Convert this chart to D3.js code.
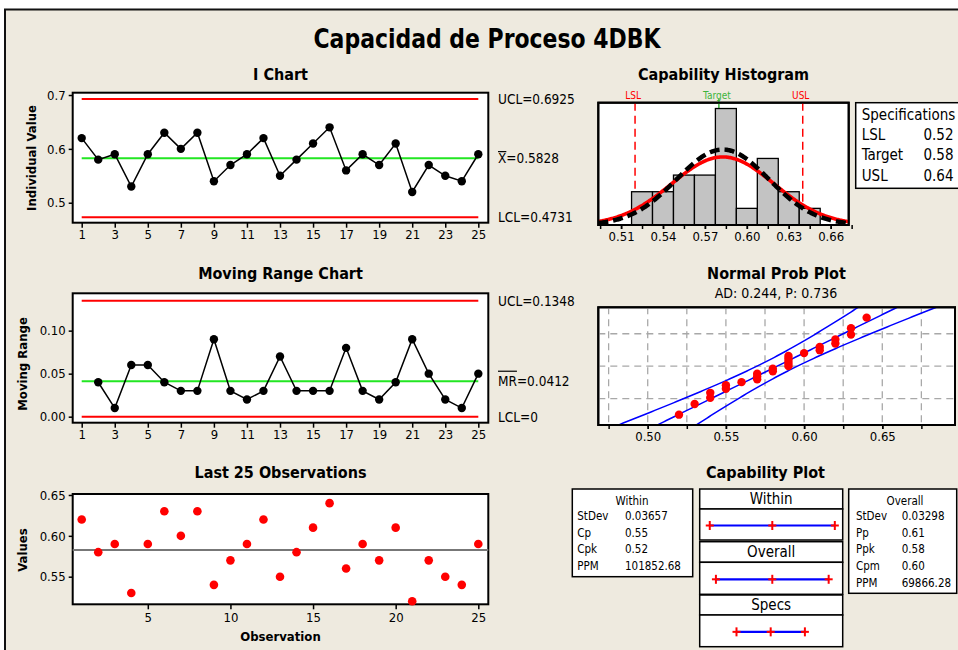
<!DOCTYPE html>
<html>
<head>
<meta charset="utf-8">
<script src="https://cdn.jsdelivr.net/npm/d3@7"></script>
<style>
  html, body { margin: 0; padding: 0; background: #fff; }
  svg { display: block; }
</style>
</head>
<body>
<svg id="chart" width="958" height="650"></svg>
<script>
// ---------- data ----------
const observations = d3.range(1, 26);
const values = [0.62, 0.58, 0.59, 0.53, 0.59, 0.63, 0.60, 0.63, 0.54, 0.57, 0.59, 0.62, 0.55,
                0.58, 0.61, 0.64, 0.56, 0.59, 0.57, 0.61, 0.52, 0.57, 0.55, 0.54, 0.59];
const movingRanges = [null, 0.04, 0.01, 0.06, 0.06, 0.04, 0.03, 0.03, 0.09, 0.03, 0.02, 0.03, 0.07,
                      0.03, 0.03, 0.03, 0.08, 0.03, 0.02, 0.04, 0.09, 0.05, 0.02, 0.01, 0.05];
const iChartLimits = [0.6925, 0.5828, 0.4731];      // UCL, X-bar, LCL
const mrChartLimits = [0.1348, 0.0412, 0];          // UCL, MR-bar, LCL
const specNames = ["LSL", "Target", "USL"];
const specValues = [0.52, 0.58, 0.64];
const processMean = 0.5828;
const sigmaWithin = 0.03657;
const sigmaOverall = 0.03298;
const histBinWidth = 0.015;
const histBinStart = 0.5175;
const withinLabels = ["StDev", "Cp", "Cpk", "PPM"];
const withinStats = ["0.03657", "0.55", "0.52", "101852.68"];
const overallLabels = ["StDev", "Pp", "Ppk", "Cpm", "PPM"];
const overallStats = ["0.03298", "0.61", "0.58", "0.60", "69866.28"];
const withinSpan = [0.4731, 0.5828, 0.6925];
const overallSpan = [0.4839, 0.5828, 0.6817];
const normalityText = "AD: 0.244, P: 0.736";
const obsTicksOdd = [1, 3, 5, 7, 9, 11, 13, 15, 17, 19, 21, 23, 25];
const obsTicks5 = [5, 10, 15, 20, 25];
const iTicks = [0.5, 0.6, 0.7];
const mrTicks = [0.00, 0.05, 0.10];
const lastTicks = [0.55, 0.60, 0.65];
const histLabelTicks = [0.51, 0.54, 0.57, 0.60, 0.63, 0.66];
const probLabelTicks = [0.50, 0.55, 0.60, 0.65];
const probGridPercents = [0.10, 0.50, 0.90];

// ---------- style ----------
const BG = "#EEEADF";
const FONT = "'DejaVu Sans Condensed','DejaVu Sans',sans-serif";
const RED = "#FF0000", GREEN = "#22E622", BLUE = "#0000FF";

const svg = d3.select("#chart").attr("font-family", FONT);
svg.append("rect").attr("width", 958).attr("height", 650).attr("fill", "#fff");
svg.append("rect").attr("x", 5).attr("y", 9.5).attr("width", 1000).attr("height", 700)
  .attr("fill", BG).attr("stroke", "#111").attr("stroke-width", 2);

function plotBox(x0, y0, x1, y1, sw = 2) {
  return svg.append("rect").attr("x", x0).attr("y", y0)
    .attr("width", x1 - x0).attr("height", y1 - y0)
    .attr("fill", "#fff").attr("stroke", "#000").attr("stroke-width", sw);
}
function frameOnly(x0, y0, x1, y1, sw = 2) {
  return svg.append("rect").attr("x", x0).attr("y", y0)
    .attr("width", x1 - x0).attr("height", y1 - y0)
    .attr("fill", "none").attr("stroke", "#000").attr("stroke-width", sw);
}
function styleAxis(sel, size) {
  sel.select(".domain").remove();
  sel.selectAll(".tick line").attr("stroke", "#000").attr("stroke-width", 1.5);
  sel.selectAll(".tick text").attr("font-family", FONT).attr("font-size", size).attr("fill", "#000");
}
function panelTitle(x, y, text, size = 16) {
  svg.append("text").attr("x", x).attr("y", y).attr("text-anchor", "middle")
    .attr("dominant-baseline", "central").attr("font-weight", "bold")
    .attr("font-size", size).attr("fill", "#000").text(text);
}
function yTitle(x, y, text) {
  svg.append("text").attr("transform", `translate(${x},${y}) rotate(-90)`)
    .attr("text-anchor", "middle").attr("dominant-baseline", "central")
    .attr("font-weight", "bold").attr("font-size", 13).text(text);
}
function clip(id, x0, y0, x1, y1) {
  svg.append("clipPath").attr("id", id).append("rect")
    .attr("x", x0).attr("y", y0).attr("width", x1 - x0).attr("height", y1 - y0);
  return `url(#${id})`;
}
function limitLabel(x, y, prefix, rest, barOffset) {
  const t = svg.append("text").attr("x", x).attr("y", y).attr("dominant-baseline", "central")
    .attr("font-size", 13.5).attr("fill", "#000").text(prefix + rest);
  if (barOffset) {
    const w = t.node().getSubStringLength(0, prefix.length);
    svg.append("line").attr("x1", x).attr("x2", x + w).attr("y1", y - barOffset).attr("y2", y - barOffset)
      .attr("stroke", "#000").attr("stroke-width", 1.2);
  }
}

// ---------- main title ----------
svg.append("text").attr("x", 487).attr("y", 39).attr("text-anchor", "middle")
  .attr("dominant-baseline", "central").attr("font-weight", "bold").attr("font-size", 26)
  .attr("textLength", 347).attr("lengthAdjust", "spacingAndGlyphs")
  .text("Capacidad de Proceso 4DBK");

// ---------- shared observation scale ----------
const L = 72.7, R = 488.3;
const xObs = d3.scaleLinear().domain([0.455, 25.605]).range([L, R]);

// ---------- I Chart ----------
{
  const top = 92.7, bot = 222.7;
  const y = d3.scaleLinear().domain([0.4629, 0.7043]).range([bot, top]);
  panelTitle(280.5, 74, "I Chart");
  plotBox(L, top, R, bot);
  svg.append("g").attr("transform", `translate(0,${bot})`)
    .call(d3.axisBottom(xObs).tickValues(obsTicksOdd).tickSize(5).tickPadding(2)).call(styleAxis, 13);
  svg.append("g").attr("transform", `translate(${L},0)`)
    .call(d3.axisLeft(y).tickValues(iTicks).tickFormat(d3.format(".1f")).tickSize(4).tickPadding(3))
    .call(styleAxis, 13);
  iChartLimits.forEach((v, i) => {
    svg.append("line").attr("x1", xObs(1)).attr("x2", xObs(25)).attr("y1", y(v)).attr("y2", y(v))
      .attr("stroke", i === 1 ? GREEN : RED).attr("stroke-width", 2);
  });
  const line = d3.line().x((d, i) => xObs(observations[i])).y(d => y(d));
  svg.append("path").attr("d", line(values)).attr("fill", "none").attr("stroke", "#000").attr("stroke-width", 1.5);
  svg.append("g").selectAll("circle").data(values).join("circle")
    .attr("cx", (d, i) => xObs(observations[i])).attr("cy", d => y(d)).attr("r", 4.2).attr("fill", "#000");
  limitLabel(498, y(iChartLimits[0]), "UCL", "=" + iChartLimits[0]);
  limitLabel(498, y(iChartLimits[1]), "X", "=" + iChartLimits[1], 6.5);
  limitLabel(498, y(iChartLimits[2]), "LCL", "=" + iChartLimits[2]);
  yTitle(31, 158, "Individual Value");
}

// ---------- Moving Range Chart ----------
{
  const top = 293.3, bot = 422.7;
  const y = d3.scaleLinear().domain([-0.007, 0.1434]).range([bot, top]);
  panelTitle(280.5, 273, "Moving Range Chart");
  plotBox(L, top, R, bot);
  svg.append("g").attr("transform", `translate(0,${bot})`)
    .call(d3.axisBottom(xObs).tickValues(obsTicksOdd).tickSize(5).tickPadding(2)).call(styleAxis, 13);
  svg.append("g").attr("transform", `translate(${L},0)`)
    .call(d3.axisLeft(y).tickValues(mrTicks).tickFormat(d3.format(".2f")).tickSize(4).tickPadding(3))
    .call(styleAxis, 13);
  mrChartLimits.forEach((v, i) => {
    svg.append("line").attr("x1", xObs(1)).attr("x2", xObs(25)).attr("y1", y(v)).attr("y2", y(v))
      .attr("stroke", i === 1 ? GREEN : RED).attr("stroke-width", 2);
  });
  const pts = movingRanges.map((v, i) => [observations[i], v]).filter(d => d[1] !== null);
  svg.append("path").attr("d", d3.line().x(d => xObs(d[0])).y(d => y(d[1]))(pts))
    .attr("fill", "none").attr("stroke", "#000").attr("stroke-width", 1.5);
  svg.append("g").selectAll("circle").data(pts).join("circle")
    .attr("cx", d => xObs(d[0])).attr("cy", d => y(d[1])).attr("r", 4.2).attr("fill", "#000");
  limitLabel(498, y(mrChartLimits[0]), "UCL", "=" + mrChartLimits[0]);
  limitLabel(498, y(mrChartLimits[1]), "MR", "=" + mrChartLimits[1], 10);
  limitLabel(498, y(mrChartLimits[2]), "LCL", "=" + mrChartLimits[2]);
  yTitle(22, 364, "Moving Range");
}

// ---------- Last 25 Observations ----------
{
  const top = 494, bot = 604.3;
  const y = d3.scaleLinear().domain([0.5162, 0.6512]).range([bot, top]);
  panelTitle(280.5, 472.5, "Last 25 Observations");
  plotBox(L, top, R, bot);
  svg.append("g").attr("transform", `translate(0,${bot})`)
    .call(d3.axisBottom(xObs).tickValues(obsTicks5).tickSize(5).tickPadding(3)).call(styleAxis, 13);
  svg.append("g").attr("transform", `translate(${L},0)`)
    .call(d3.axisLeft(y).tickValues(lastTicks).tickFormat(d3.format(".2f")).tickSize(4).tickPadding(3))
    .call(styleAxis, 13);
  svg.append("line").attr("x1", L).attr("x2", R).attr("y1", y(processMean)).attr("y2", y(processMean))
    .attr("stroke", "#777").attr("stroke-width", 2);
  svg.append("g").selectAll("circle").data(values).join("circle")
    .attr("cx", (d, i) => xObs(observations[i])).attr("cy", d => y(d)).attr("r", 4.3).attr("fill", RED);
  svg.append("text").attr("x", 280.5).attr("y", 636).attr("text-anchor", "middle")
    .attr("dominant-baseline", "central").attr("font-weight", "bold").attr("font-size", 13).text("Observation");
  yTitle(22, 550, "Values");
}

// ---------- Capability Histogram ----------
function normalPdf(x, mu, s) {
  return Math.exp(-0.5 * ((x - mu) / s) ** 2) / (s * Math.sqrt(2 * Math.PI));
}
{
  const x0 = 598.3, x1 = 848.7, top = 102.7, bot = 225;
  const x = d3.scaleLinear().domain([0.4937, 0.6729]).range([x0, x1]);
  const y = d3.scaleLinear().domain([0, 7.35]).range([bot, top]);
  panelTitle(723.5, 74, "Capability Histogram");
  plotBox(x0, top, x1, bot);
  const cp = clip("histClip", x0, top, x1, bot);
  const g = svg.append("g").attr("clip-path", cp);
  // spec reference lines
  specValues.forEach((v, i) => {
    if (i === 1) {
      g.append("line").attr("x1", x(v)).attr("x2", x(v)).attr("y1", top).attr("y2", bot)
        .attr("stroke", "#3CB43C").attr("stroke-width", 1.5);
    } else {
      g.append("line").attr("x1", x(v)).attr("x2", x(v)).attr("y1", top).attr("y2", bot)
        .attr("stroke", RED).attr("stroke-width", 1.5).attr("stroke-dasharray", "8,5");
    }
    svg.append("text").attr("x", x(v) - 2).attr("y", 95).attr("text-anchor", "middle")
      .attr("dominant-baseline", "central").attr("font-size", 10)
      .attr("fill", i === 1 ? "#3CB43C" : RED).text(specNames[i]);
  });
  svg.append("line").attr("x1", x(specValues[1])).attr("x2", x(specValues[1])).attr("y1", 99).attr("y2", top)
    .attr("stroke", "#3CB43C").attr("stroke-width", 1.5);
  // bars
  const thresholds = d3.range(0, 11).map(k => histBinStart + k * histBinWidth);
  const bins = d3.bin().domain([thresholds[0], thresholds[thresholds.length - 1]]).thresholds(thresholds)(values)
    .filter(b => b.x1 > b.x0);
  g.selectAll("rect.bar").data(bins).join("rect").attr("class", "bar")
    .attr("x", b => x(b.x0)).attr("width", b => x(b.x1) - x(b.x0))
    .attr("y", b => y(b.length)).attr("height", b => bot - y(b.length))
    .attr("fill", "#C3C3C3").attr("stroke", "#000").attr("stroke-width", 1.3);
  // fitted normal curves, scaled to counts
  const xs = d3.range(0, 301).map(i => x.domain()[0] + i * (x.domain()[1] - x.domain()[0]) / 300);
  const scaleN = values.length * histBinWidth;
  const curve = s => d3.line().x(d => x(d)).y(d => y(scaleN * normalPdf(d, processMean, s)))(xs);
  g.append("path").attr("d", curve(sigmaWithin)).attr("fill", "none").attr("stroke", RED).attr("stroke-width", 3.6);
  g.append("path").attr("d", curve(sigmaOverall)).attr("fill", "none").attr("stroke", "#000")
    .attr("stroke-width", 4.5).attr("stroke-dasharray", "10,5");
  frameOnly(x0, top, x1, bot);
  // axis
  const minor = d3.range(0, 13).map(k => 0.495 + k * 0.015);
  svg.append("g").attr("transform", `translate(0,${bot})`)
    .call(d3.axisBottom(x).tickValues(minor).tickSize(4).tickFormat("")).call(styleAxis, 13);
  svg.append("g").attr("transform", `translate(0,${bot})`)
    .call(d3.axisBottom(x).tickValues(histLabelTicks).tickSize(4).tickPadding(3).tickFormat(d3.format(".2f")))
    .call(styleAxis, 13);
  // specification table
  plotBox(855.7, 102.7, 1000, 188.3, 1.5);
  svg.append("text").attr("x", 861.7).attr("y", 114.5).attr("dominant-baseline", "central")
    .attr("font-size", 15).text("Specifications");
  specNames.forEach((n, i) => {
    const yy = 134.5 + i * 20.8;
    svg.append("text").attr("x", 861.7).attr("y", yy).attr("dominant-baseline", "central")
      .attr("font-size", 15).text(n);
    svg.append("text").attr("x", 953.5).attr("y", yy).attr("dominant-baseline", "central")
      .attr("text-anchor", "end").attr("font-size", 15).text(specValues[i].toFixed(2));
  });
}

// ---------- Normal Prob Plot ----------
function normInv(p) {
  const a = [-3.969683028665376e+01, 2.209460984245205e+02, -2.759285104469687e+02,
             1.383577518672690e+02, -3.066479806614716e+01, 2.506628277459239e+00];
  const b = [-5.447609879822406e+01, 1.615858368580409e+02, -1.556989798598866e+02,
             6.680131188771972e+01, -1.328068155288572e+01];
  const c = [-7.784894002430293e-03, -3.223964580411365e-01, -2.400758277161838e+00,
             -2.549671348754041e+00, 4.374664141464968e+00, 2.938163982698783e+00];
  const d = [7.784695709041462e-03, 3.224671290700398e-01, 2.445134137142996e+00, 3.754408661907416e+00];
  const pl = 0.02425;
  if (p < pl) {
    const q = Math.sqrt(-2 * Math.log(p));
    return (((((c[0]*q+c[1])*q+c[2])*q+c[3])*q+c[4])*q+c[5]) / ((((d[0]*q+d[1])*q+d[2])*q+d[3])*q+1);
  }
  if (p <= 1 - pl) {
    const q = p - 0.5, r = q * q;
    return (((((a[0]*r+a[1])*r+a[2])*r+a[3])*r+a[4])*r+a[5])*q / (((((b[0]*r+b[1])*r+b[2])*r+b[3])*r+b[4])*r+1);
  }
  const q = Math.sqrt(-2 * Math.log(1 - p));
  return -(((((c[0]*q+c[1])*q+c[2])*q+c[3])*q+c[4])*q+c[5]) / ((((d[0]*q+d[1])*q+d[2])*q+d[3])*q+1);
}
{
  const x0 = 598.3, x1 = 955, top = 307.3, bot = 425;
  const x = d3.scaleLinear().domain([0.4684, 0.6965]).range([x0, x1]);
  const y = d3.scaleLinear().domain([normInv(0.01), normInv(0.99)]).range([bot, top]);
  panelTitle(776.5, 273, "Normal Prob Plot");
  svg.append("text").attr("x", 776).attr("y", 293).attr("text-anchor", "middle")
    .attr("dominant-baseline", "central").attr("font-size", 14).text(normalityText);
  plotBox(x0, top, x1, bot);
  const cp = clip("probClip", x0, top, x1, bot);
  const g = svg.append("g").attr("clip-path", cp);
  const grid = d3.range(0, 9).map(k => 0.475 + k * 0.025);
  grid.forEach(v => g.append("line").attr("x1", x(v)).attr("x2", x(v)).attr("y1", top).attr("y2", bot)
    .attr("stroke", "#A8A8A8").attr("stroke-width", 1.3).attr("stroke-dasharray", "7,5"));
  probGridPercents.forEach(p => g.append("line").attr("x1", x0).attr("x2", x1).attr("y1", y(normInv(p))).attr("y2", y(normInv(p)))
    .attr("stroke", "#A8A8A8").attr("stroke-width", 1.3).attr("stroke-dasharray", "7,5"));
  // fitted line with 95% confidence band
  const n = values.length;
  const zs = d3.range(0, 121).map(i => -3 + i * 0.05);
  const band = k => d3.line().x(z => x(processMean + z * sigmaOverall +
      k * 1.96 * sigmaOverall * Math.sqrt(1 / n + z * z / (2 * n)))).y(z => y(z))(zs);
  [-1, 0, 1].forEach(k => g.append("path").attr("d", band(k)).attr("fill", "none")
    .attr("stroke", BLUE).attr("stroke-width", 1.5));
  const sorted = values.slice().sort(d3.ascending);
  g.selectAll("circle").data(sorted).join("circle")
    .attr("cx", d => x(d)).attr("cy", (d, i) => y(normInv((i + 1 - 0.3) / (n + 0.4))))
    .attr("r", 4.2).attr("fill", RED);
  frameOnly(x0, top, x1, bot);
  svg.append("g").attr("transform", `translate(0,${bot})`)
    .call(d3.axisBottom(x).tickValues(grid).tickSize(4).tickFormat("")).call(styleAxis, 13);
  svg.append("g").attr("transform", `translate(0,${bot})`)
    .call(d3.axisBottom(x).tickValues(probLabelTicks).tickSize(4).tickPadding(3).tickFormat(d3.format(".2f")))
    .call(styleAxis, 13);
}

// ---------- Capability Plot ----------
{
  panelTitle(765.5, 472.5, "Capability Plot");
  // within statistics
  plotBox(572.3, 489, 692.7, 576.7, 1.5);
  svg.append("text").attr("x", 632).attr("y", 500.7).attr("text-anchor", "middle")
    .attr("dominant-baseline", "central").attr("font-size", 11.5).text("Within");
  withinLabels.forEach((lab, i) => {
    const yy = 515.8 + i * 16.8;
    svg.append("text").attr("x", 577.3).attr("y", yy).attr("dominant-baseline", "central").attr("font-size", 11.5).text(lab);
    svg.append("text").attr("x", 625).attr("y", yy).attr("dominant-baseline", "central").attr("font-size", 11.5).text(withinStats[i]);
  });
  // overall statistics
  plotBox(848.7, 489, 956.7, 593.3, 1.5);
  svg.append("text").attr("x", 905).attr("y", 500.7).attr("text-anchor", "middle")
    .attr("dominant-baseline", "central").attr("font-size", 11.5).text("Overall");
  overallLabels.forEach((lab, i) => {
    const yy = 515.8 + i * 16.8;
    svg.append("text").attr("x", 856).attr("y", yy).attr("dominant-baseline", "central").attr("font-size", 11.5).text(lab);
    svg.append("text").attr("x", 901.7).attr("y", yy).attr("dominant-baseline", "central").attr("font-size", 11.5).text(overallStats[i]);
  });
  // interval strips
  const bx0 = 699.7, bx1 = 842.7;
  const x = d3.scaleLinear().domain([0.45544, 0.70632]).range([bx0, bx1]);
  const rows = [
    { name: "Within", span: withinSpan, h: [489, 509], p: [509, 540] },
    { name: "Overall", span: overallSpan, h: [541.7, 562.3], p: [562.3, 594.3] },
    { name: "Specs", span: specValues, h: [595, 615], p: [615, 646.7] }
  ];
  rows.forEach(r => {
    plotBox(bx0, r.h[0], bx1, r.h[1], 1.5);
    plotBox(bx0, r.p[0], bx1, r.p[1], 1.5);
    svg.append("text").attr("x", (bx0 + bx1) / 2).attr("y", (r.h[0] + r.h[1]) / 2)
      .attr("text-anchor", "middle").attr("dominant-baseline", "central").attr("font-size", 15).text(r.name);
    const yy = (r.p[0] + r.p[1]) / 2 + 1;
    svg.append("line").attr("x1", x(r.span[0])).attr("x2", x(r.span[2])).attr("y1", yy).attr("y2", yy)
      .attr("stroke", BLUE).attr("stroke-width", 2.2);
    r.span.forEach(v => {
      svg.append("line").attr("x1", x(v) - 4).attr("x2", x(v) + 4).attr("y1", yy).attr("y2", yy)
        .attr("stroke", RED).attr("stroke-width", 2);
      svg.append("line").attr("x1", x(v)).attr("x2", x(v)).attr("y1", yy - 4.5).attr("y2", yy + 4.5)
        .attr("stroke", RED).attr("stroke-width", 2);
    });
  });
}
</script>
</body>
</html>
